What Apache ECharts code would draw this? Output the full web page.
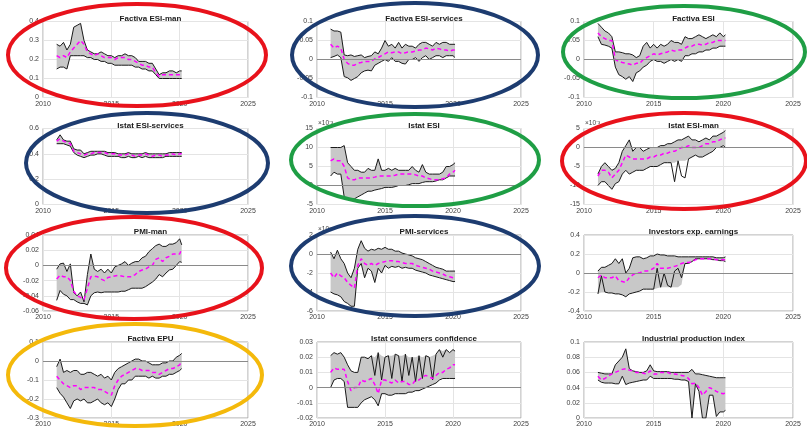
<!DOCTYPE html>
<html>
<head>
<meta charset="utf-8">
<script src="https://cdn.jsdelivr.net/npm/echarts@6/dist/echarts.min.js"></script>
<style>
  html, body { margin: 0; padding: 0; background: #fff; }
  #chart { width: 807px; height: 429px; }
</style>
</head>
<body>
<div id="chart"></div>
<script>
// quarterly time points (decimal years)
const dates = [2011.00,2011.25,2011.50,2011.75,2012.00,2012.25,2012.50,2012.75,2013.00,2013.25,
  2013.50,2013.75,2014.00,2014.25,2014.50,2014.75,2015.00,2015.25,2015.50,2015.75,
  2016.00,2016.25,2016.50,2016.75,2017.00,2017.25,2017.50,2017.75,2018.00,2018.25,
  2018.50,2018.75,2019.00,2019.25,2019.50,2019.75,2020.00,2020.15];

// Factiva ESI-man
const facEsiManHi = [0.28,0.27,0.29,0.25,0.28,0.37,0.38,0.39,0.30,0.25, 0.24,0.23,0.23,0.24,0.23,0.22,0.22,0.21,0.22,0.22, 0.23,0.22,0.22,0.21,0.19,0.19,0.19,0.18,0.18,0.15, 0.12,0.13,0.13,0.14,0.14,0.13,0.14,0.14];
const facEsiManLo = [0.15,0.16,0.16,0.15,0.22,0.22,0.22,0.22,0.22,0.21, 0.21,0.20,0.20,0.19,0.19,0.18,0.18,0.17,0.17,0.17, 0.17,0.17,0.17,0.16,0.16,0.15,0.15,0.14,0.14,0.12, 0.10,0.10,0.10,0.10,0.10,0.10,0.10,0.10];
const facEsiManMid = [0.22,0.21,0.22,0.21,0.24,0.26,0.28,0.30,0.28,0.24, 0.23,0.22,0.23,0.22,0.21,0.21,0.21,0.20,0.21,0.21, 0.21,0.20,0.20,0.19,0.18,0.17,0.17,0.16,0.16,0.13, 0.11,0.12,0.12,0.12,0.12,0.12,0.12,0.12];

// Factiva ESI-services
const facEsiServHi = [0.080,0.075,0.075,0.072,0.012,0.010,0.012,0.008,0.010,0.012, 0.005,0.008,0.010,0.020,0.015,0.030,0.050,0.035,0.040,0.030, 0.045,0.030,0.040,0.035,0.035,0.030,0.040,0.045,0.045,0.040, 0.035,0.045,0.040,0.045,0.045,0.040,0.040,0.040];
const facEsiServLo = [0.005,0.008,0.012,0.005,-0.045,-0.048,-0.055,-0.050,-0.045,-0.035, -0.030,-0.028,-0.030,-0.015,-0.010,-0.005,0.000,-0.005,0.005,-0.005, -0.005,-0.010,-0.012,0.000,0.000,0.005,-0.005,0.005,0.010,0.000, 0.005,0.010,0.010,0.005,0.010,0.010,0.010,0.005];
const facEsiServMid = [0.040,0.030,0.035,0.030,0.000,-0.010,-0.015,-0.015,-0.010,-0.008, -0.005,-0.005,-0.005,0.002,0.005,0.010,0.015,0.020,0.018,0.020, 0.020,0.015,0.018,0.020,0.020,0.022,0.025,0.025,0.030,0.028, 0.025,0.030,0.028,0.025,0.025,0.022,0.025,0.025];

// Factiva ESI
const facEsiHi = [0.095,0.085,0.075,0.070,0.060,0.020,0.020,0.018,0.015,0.015, 0.012,0.005,0.010,0.035,0.045,0.030,0.040,0.030,0.040,0.035, 0.040,0.050,0.045,0.045,0.040,0.060,0.055,0.055,0.060,0.065, 0.060,0.055,0.060,0.065,0.060,0.070,0.060,0.065];
const facEsiLo = [0.060,0.040,0.038,0.035,0.030,-0.020,-0.040,-0.045,-0.052,-0.045, -0.058,-0.035,-0.030,-0.020,-0.015,-0.005,0.000,-0.005,-0.005,-0.010, -0.005,0.000,-0.005,0.000,-0.005,0.010,0.010,0.015,0.015,0.020, 0.020,0.025,0.025,0.030,0.030,0.035,0.035,0.035];
const facEsiMid = [0.070,0.060,0.055,0.050,0.050,0.000,-0.005,-0.008,-0.010,-0.012, -0.015,-0.010,-0.010,0.000,0.005,0.010,0.015,0.012,0.015,0.018, 0.020,0.025,0.022,0.025,0.025,0.030,0.035,0.035,0.040,0.040, 0.038,0.040,0.045,0.045,0.050,0.050,0.050,0.050];

// Istat ESI-services
const istEsiServHi = [0.51,0.55,0.51,0.50,0.50,0.44,0.43,0.43,0.40,0.41, 0.42,0.42,0.42,0.42,0.42,0.41,0.41,0.41,0.40,0.40, 0.40,0.41,0.40,0.40,0.40,0.40,0.41,0.40,0.40,0.40, 0.40,0.40,0.40,0.41,0.41,0.41,0.41,0.41];
const istEsiServLo = [0.48,0.48,0.48,0.47,0.46,0.41,0.39,0.38,0.37,0.38, 0.39,0.39,0.40,0.40,0.39,0.38,0.38,0.38,0.38,0.37, 0.37,0.38,0.37,0.37,0.38,0.37,0.38,0.37,0.37,0.37, 0.37,0.37,0.38,0.38,0.38,0.38,0.38,0.38];
const istEsiServMid = [0.50,0.52,0.50,0.49,0.48,0.42,0.41,0.40,0.39,0.40, 0.40,0.41,0.41,0.41,0.41,0.40,0.40,0.40,0.39,0.39, 0.39,0.40,0.39,0.38,0.39,0.39,0.40,0.39,0.38,0.39, 0.39,0.38,0.39,0.39,0.40,0.39,0.40,0.40];

// Istat ESI (x 1e-3)
const istEsiHi = [10,10,10,10,10.5,6,5,4,4,3.5, 3.5,4.5,4,4,7,4,4,4.5,4,4.5, 4,4,4,4,5,4,3.5,5.5,3.5,3, 3,3,3,3.5,5,5,5.5,6];
const istEsiLo = [2.5,3.5,3,3,-3,-3.5,-3.5,-3.5,-3,-2.5, -2,-1.5,-1.5,-1.2,-1,-0.8,-0.5,-0.5,-0.5,-0.3, 0,0,0,0.2,0.5,0.5,0.5,0.8,1,1, 1,1.2,1.5,1.5,2,2.5,2.5,2.5];
const istEsiMid = [6.5,7,6.5,6.5,5,2,1.5,1.5,2,2, 2,2,2,2.2,2.5,2.5,2.5,2.5,2.5,2.7, 3,3,3,3,3,2.8,2.5,2.5,2,1.8, 1.5,1.5,1.5,1.8,2,3,3.5,4];

// Istat ESI-man (x 1e-3)
const istEsiManHi = [-7,-5,-4,-5,-6,-5.5,-4,-1,0.5,2, -1,0,0,-1,-0.5,0,0,0,0.5,0.5, 1,1,1.5,2,2,2.5,3,2,2,1.5, 2,2.5,2,3,3,3.5,4,4.5];
const istEsiManLo = [-10,-9,-9,-10,-11,-9.5,-9,-7,-6,-7, -6.5,-6,-6,-6,-5.5,-5,-5,-5,-4.5,-4, -4,-4,-9,-3.5,-7.5,-8,-3,-2.5,-2,-2.5, -2.5,-2,-1.5,-1,0,0,0.5,0];
const istEsiManBandLo = [-10,-9,-9,-10,-11,-9.5,-9,-7,-6,-7, -6.5,-6,-6,-6,-5.5,-5,-5,-5,-4.5,-4, -4,-4,-4,-3.5,-3.5,-3.5,-3,-2.5,-2,-2.5, -2.5,-2,-1.5,-1,0,0,0.5,0];
const istEsiManMid = [-7.5,-6,-6,-6.5,-8,-7,-6,-4,-2,-2.5, -3,-3,-3,-3,-3,-2.5,-2.5,-2,-2,-1.5, -1.5,-1,-1,-0.5,0,0,0.5,0,0,0, 0.5,1,1,1.5,1.5,2,2.5,2.5];

// PMI-man
const pmiManHi = [-0.005,0.002,0.003,-0.008,0.002,-0.036,-0.040,-0.035,-0.048,-0.012, 0.015,-0.005,-0.008,-0.005,-0.010,-0.005,-0.010,-0.002,0.000,0.002, 0.005,0.000,0.003,0.005,0.005,0.010,0.012,0.018,0.022,0.026, 0.028,0.025,0.025,0.028,0.028,0.030,0.035,0.027];
const pmiManLo = [-0.046,-0.033,-0.038,-0.040,-0.045,-0.045,-0.048,-0.050,-0.050,-0.052, -0.040,-0.036,-0.035,-0.036,-0.035,-0.035,-0.035,-0.035,-0.035,-0.034, -0.034,-0.032,-0.030,-0.030,-0.030,-0.030,-0.028,-0.025,-0.022,-0.018, -0.012,-0.015,-0.010,-0.006,-0.005,0.000,0.005,0.004];
const pmiManMid = [-0.018,-0.013,-0.015,-0.015,-0.020,-0.034,-0.040,-0.042,-0.045,-0.030, -0.015,-0.014,-0.015,-0.018,-0.020,-0.016,-0.015,-0.014,-0.013,-0.014, -0.015,-0.015,-0.015,-0.012,-0.008,-0.006,-0.005,-0.002,0.000,0.008, 0.010,0.005,0.010,0.012,0.015,0.015,0.015,0.022];

// PMI-services (x 1e-3)
const pmiServHi = [0.2,-0.5,0.4,-0.5,-1,-2,-2.5,-1.5,0.5,1.4, 0.6,0.3,0.5,0.4,0.6,0.5,0.7,0.5,0.5,0.3, 0.3,0.1,0,-0.1,-0.2,-0.4,-0.5,-0.6,-0.8,-1, -1.2,-1.4,-1.5,-1.6,-1.8,-1.8,-1.8,-1.8];
const pmiServLo = [-4,-4.2,-4.3,-4.5,-5,-5.2,-5.5,-5.5,-1.5,-1, -2.5,-1.5,-1.8,-3,-1.5,-2,-1.2,-1.5,-1.3,-1.4, -1.3,-1.5,-1.4,-1.5,-1.5,-1.7,-1.8,-1.9,-2,-2.2, -2.3,-2.4,-2.5,-2.6,-2.7,-2.8,-2.9,-2.9];
const pmiServMid = [-2,-2.5,-2,-2.3,-2.5,-3,-3.3,-3.6,-1.2,-0.5, -1,-1.2,-1,-1.2,-1,-0.9,-0.8,-0.7,-0.7,-0.8, -0.8,-0.9,-1,-1,-1,-1.2,-1.3,-1.4,-1.5,-1.6, -1.8,-1.9,-2,-2.1,-2.3,-2.4,-2.5,-2.5];

// Investors exp. earnings
const invEarnHi = [0.02,0.06,0.06,0.08,0.10,0.15,0.10,0.15,0.00,0.05, 0.16,0.17,0.17,0.15,0.16,0.18,0.18,0.20,0.19,0.19, 0.18,0.18,0.18,0.17,0.17,0.17,0.17,0.17,0.17,0.17, 0.17,0.17,0.17,0.17,0.16,0.16,0.16,0.17];
const invEarnLo = [-0.22,-0.03,-0.20,-0.21,-0.21,-0.22,-0.22,-0.23,-0.25,-0.22, -0.21,-0.20,-0.19,-0.17,-0.17,-0.17,-0.17,0.05,-0.15,0.00, -0.13,-0.15,0.02,0.05,-0.05,0.10,0.10,0.12,0.15,0.15, 0.15,0.15,0.15,0.14,0.14,0.13,0.13,0.12];
const invEarnBandLo = [-0.22,-0.20,-0.20,-0.21,-0.21,-0.22,-0.22,-0.23,-0.25,-0.22, -0.21,-0.20,-0.19,-0.17,-0.17,-0.17,-0.17,-0.16,-0.15,-0.15, -0.15,-0.15,-0.15,-0.15,-0.12,0.10,0.10,0.12,0.15,0.15, 0.15,0.15,0.15,0.14,0.14,0.13,0.13,0.12];
const invEarnMid = [-0.05,-0.02,-0.05,-0.05,-0.05,-0.03,-0.08,-0.09,-0.10,-0.05, -0.02,0.00,0.00,0.02,0.02,0.03,0.05,0.10,0.05,0.05, 0.05,0.06,0.07,0.08,0.10,0.11,0.11,0.12,0.14,0.15, 0.15,0.15,0.15,0.15,0.14,0.14,0.14,0.14];

// Factiva EPU
const facEpuHi = [-0.03,0.01,-0.06,-0.05,-0.06,-0.05,-0.05,-0.07,-0.07,-0.06, -0.06,-0.07,-0.08,-0.07,-0.09,-0.08,-0.10,-0.06,-0.04,-0.03, -0.02,-0.01,0.00,0.01,0.01,0.00,0.00,-0.01,-0.02,-0.02, -0.02,-0.01,-0.01,0.00,0.00,0.02,0.03,0.04];
const facEpuLo = [-0.14,-0.17,-0.19,-0.22,-0.25,-0.21,-0.20,-0.21,-0.20,-0.22, -0.22,-0.21,-0.20,-0.22,-0.23,-0.22,-0.24,-0.20,-0.15,-0.12, -0.12,-0.10,-0.10,-0.08,-0.08,-0.08,-0.08,-0.09,-0.08,-0.09, -0.09,-0.08,-0.08,-0.07,-0.07,-0.06,-0.05,-0.04];
const facEpuMid = [-0.08,-0.10,-0.12,-0.13,-0.14,-0.13,-0.13,-0.15,-0.14,-0.14, -0.14,-0.14,-0.15,-0.15,-0.16,-0.17,-0.18,-0.13,-0.10,-0.08, -0.07,-0.06,-0.05,-0.04,-0.04,-0.05,-0.05,-0.05,-0.06,-0.06, -0.07,-0.06,-0.05,-0.04,-0.04,-0.03,-0.02,0.00];

// Istat consumers confidence
const consConfHi = [0.021,0.023,0.022,0.023,0.020,0.015,0.011,0.010,0.010,0.020, 0.020,0.019,0.021,0.008,0.023,0.005,0.020,0.021,0.006,0.022, 0.021,0.004,0.022,0.008,0.020,0.004,0.021,0.006,0.021,0.020, 0.005,0.022,0.025,0.020,0.025,0.023,0.025,0.024];
const consConfBandHi = [0.021,0.023,0.022,0.023,0.020,0.015,0.011,0.010,0.010,0.020, 0.020,0.019,0.021,0.020,0.023,0.021,0.020,0.021,0.021,0.022, 0.021,0.021,0.022,0.020,0.020,0.020,0.021,0.020,0.021,0.020, 0.021,0.022,0.025,0.024,0.025,0.023,0.025,0.024];
const consConfLo = [0.000,0.005,0.006,0.006,0.004,-0.013,-0.013,-0.013,-0.013,-0.010, -0.008,-0.007,-0.006,-0.008,-0.012,-0.004,-0.004,-0.005,-0.005,-0.004, -0.004,-0.004,-0.004,-0.003,-0.003,-0.002,-0.002,-0.001,0.000,0.001, 0.002,0.003,0.005,0.006,0.006,0.006,0.006,0.006];
const consConfMid = [0.010,0.013,0.012,0.012,0.012,0.004,-0.002,0.000,0.000,0.005, 0.004,0.005,0.006,0.002,-0.004,0.005,0.005,0.004,0.003,0.005, 0.003,0.004,0.004,0.002,0.002,0.005,0.005,0.007,0.008,0.007, 0.006,0.008,0.010,0.010,0.012,0.013,0.015,0.015];

// Industrial production index
const indProdHi = [0.060,0.059,0.058,0.058,0.058,0.070,0.075,0.080,0.091,0.065, 0.062,0.061,0.060,0.060,0.062,0.070,0.062,0.061,0.061,0.061, 0.061,0.060,0.060,0.060,0.060,0.060,0.060,0.064,0.058,0.058, 0.057,0.056,0.055,0.054,0.053,0.053,0.053,0.053];
const indProdLo = [0.050,0.047,0.046,0.046,0.046,0.045,0.045,0.055,0.044,0.046, 0.047,0.048,0.049,0.050,0.050,0.055,0.052,0.052,0.052,0.052, 0.052,0.052,0.051,0.051,0.050,0.050,0.048,0.000,0.045,0.035, 0.000,0.000,0.030,0.030,0.002,0.008,0.008,0.010];
const indProdMid = [0.055,0.050,0.052,0.055,0.058,0.060,0.062,0.064,0.065,0.063, 0.062,0.060,0.060,0.059,0.058,0.062,0.058,0.058,0.060,0.060, 0.060,0.058,0.058,0.057,0.056,0.055,0.052,0.045,0.046,0.040, 0.030,0.035,0.040,0.038,0.035,0.033,0.032,0.033];

const panels = [
  { title: 'Factiva ESI-man', hi: facEsiManHi, lo: facEsiManLo, mid: facEsiManMid, min: 0, max: 0.4, step: 0.1 },
  { title: 'Factiva ESI-services', hi: facEsiServHi, lo: facEsiServLo, mid: facEsiServMid, min: -0.1, max: 0.1, step: 0.05 },
  { title: 'Factiva ESI', hi: facEsiHi, lo: facEsiLo, mid: facEsiMid, min: -0.1, max: 0.1, step: 0.05 },
  { title: 'Istat ESI-services', hi: istEsiServHi, lo: istEsiServLo, mid: istEsiServMid, min: 0, max: 0.6, step: 0.2 },
  { title: 'Istat ESI', hi: istEsiHi, lo: istEsiLo, mid: istEsiMid, min: -5, max: 15, step: 5, scaled: true },
  { title: 'Istat ESI-man', hi: istEsiManHi, lo: istEsiManLo, bandLo: istEsiManBandLo, mid: istEsiManMid, min: -15, max: 5, step: 5, scaled: true },
  { title: 'PMI-man', hi: pmiManHi, lo: pmiManLo, mid: pmiManMid, min: -0.06, max: 0.04, step: 0.02 },
  { title: 'PMI-services', hi: pmiServHi, lo: pmiServLo, mid: pmiServMid, min: -6, max: 2, step: 2, scaled: true },
  { title: 'Investors exp. earnings', hi: invEarnHi, lo: invEarnLo, bandLo: invEarnBandLo, mid: invEarnMid, min: -0.4, max: 0.4, step: 0.2 },
  { title: 'Factiva EPU', hi: facEpuHi, lo: facEpuLo, mid: facEpuMid, min: -0.3, max: 0.1, step: 0.1 },
  { title: 'Istat consumers confidence', hi: consConfHi, bandHi: consConfBandHi, lo: consConfLo, mid: consConfMid, min: -0.02, max: 0.03, step: 0.01 },
  { title: 'Industrial production index', hi: indProdHi, lo: indProdLo, mid: indProdMid, min: 0, max: 0.1, step: 0.02 }
];

// highlight ellipses drawn over the figure
const ellipses = [
  { cx: 137, cy: 55, rx: 129, ry: 51, color: '#e8121b' },
  { cx: 415, cy: 55, rx: 123, ry: 52, color: '#1d3c70' },
  { cx: 684, cy: 52, rx: 121, ry: 46, color: '#1f9e45' },
  { cx: 147, cy: 163, rx: 121, ry: 50, color: '#1d3c70' },
  { cx: 415, cy: 160, rx: 124, ry: 46, color: '#1f9e45' },
  { cx: 684, cy: 161, rx: 122, ry: 48, color: '#e8121b' },
  { cx: 134, cy: 268, rx: 128, ry: 51, color: '#e8121b' },
  { cx: 415, cy: 266, rx: 124, ry: 50, color: '#1d3c70' },
  { cx: 135, cy: 375, rx: 127, ry: 51, color: '#f4b90b' }
];

const colLeft = [43, 317, 584];
const colWidth = [205, 204, 209];
const rowTop = [21.5, 128.5, 235, 342];
const rowHeight = 76;
const font = 'Liberation Sans, Arial, sans-serif';

const pair = arr => arr.map((v, k) => [dates[k], v]);

const grids = [], xAxes = [], yAxes = [], titles = [], series = [], graphics = [];

panels.forEach((p, i) => {
  const col = i % 3, row = Math.floor(i / 3);
  const left = colLeft[col], top = rowTop[row];
  grids.push({ left: left, top: top, width: colWidth[col], height: rowHeight,
    show: true, borderColor: '#a6a6a6', borderWidth: 1 });
  xAxes.push({ gridIndex: i, type: 'value', min: 2010, max: 2025, interval: 5,
    axisLine: { show: false }, axisTick: { show: false },
    splitLine: { lineStyle: { color: '#e4e4e4' } },
    axisLabel: { fontSize: 7, color: '#404040', margin: 3, fontFamily: font, formatter: v => String(v) } });
  yAxes.push({ gridIndex: i, type: 'value', min: p.min, max: p.max, interval: p.step,
    axisLine: { show: false }, axisTick: { show: false },
    splitLine: { lineStyle: { color: '#e4e4e4' } },
    axisLabel: { fontSize: 7, color: '#404040', margin: 4, fontFamily: font } });
  titles.push({ text: p.title, left: left + colWidth[col] / 2, top: top - 12, textAlign: 'center',
    textStyle: { fontSize: 8, fontWeight: 'bold', color: '#1a1a1a', fontFamily: font } });

  const bLo = p.bandLo || p.lo;
  const bHi = p.bandHi || p.hi;
  const base = { xAxisIndex: i, yAxisIndex: i, silent: true, animation: false };
  // grey band between the two bounds, drawn as one polygon through the axis scales
  series.push(Object.assign({}, base, {
    type: 'custom', z: 1, clip: true,
    data: dates.map((d, k) => [d, bLo[k], bHi[k]]),
    encode: { x: 0, y: [1, 2] },
    renderItem: (params, api) => {
      if (params.dataIndex !== 0) return null;
      const upper = dates.map((d, k) => api.coord([d, bHi[k]]));
      const lower = dates.map((d, k) => api.coord([d, bLo[k]])).reverse();
      return { type: 'polygon', shape: { points: upper.concat(lower) }, style: { fill: '#c8c8c8' } };
    }
  }));
  // black bounds
  series.push(Object.assign({}, base, { type: 'line', symbol: 'none', data: pair(p.lo),
    lineStyle: { color: '#1a1a1a', width: 1 }, z: 3 }));
  series.push(Object.assign({}, base, { type: 'line', symbol: 'none', data: pair(p.hi),
    lineStyle: { color: '#1a1a1a', width: 1 }, z: 3 }));
  // magenta dashed centre line + zero line
  const mid = Object.assign({}, base, { type: 'line', symbol: 'none', data: pair(p.mid),
    lineStyle: { color: '#ff00ff', width: 1.5, type: [4, 3] }, z: 4 });
  if (p.min < 0 && p.max > 0) {
    mid.markLine = { silent: true, symbol: 'none', label: { show: false }, animation: false,
      lineStyle: { color: '#8a8a8a', width: 1.2, type: 'solid' }, data: [{ yAxis: 0 }] };
  }
  series.push(mid);

  if (p.scaled) {
    graphics.push({ type: 'text', left: left + 1, top: top - 9, z: 10,
      style: { text: '×10⁻³', fontSize: 6.5, fill: '#404040', fontFamily: font } });
  }
});

ellipses.forEach(e => {
  graphics.push({ type: 'ellipse', z: 20, silent: true,
    shape: { cx: e.cx, cy: e.cy, rx: e.rx, ry: e.ry },
    style: { fill: 'none', stroke: e.color, lineWidth: 4 } });
});

const chart = echarts.init(document.getElementById('chart'));
chart.setOption({
  animation: false,
  backgroundColor: '#ffffff',
  title: titles,
  grid: grids,
  xAxis: xAxes,
  yAxis: yAxes,
  series: series,
  graphic: graphics
});
</script>
</body>
</html>
